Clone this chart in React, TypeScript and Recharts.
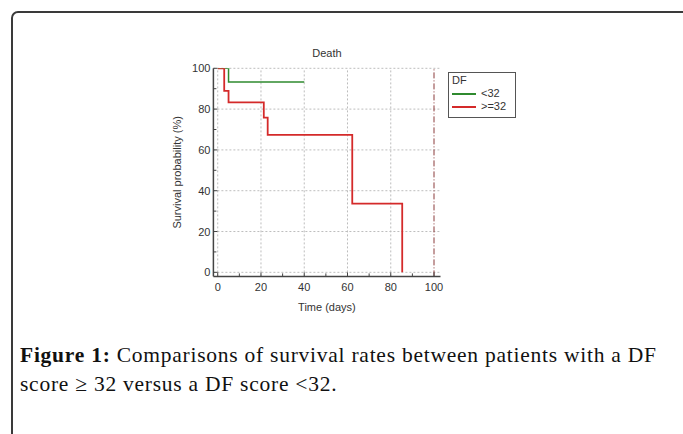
import React from "react";
import { LineChart, Line, XAxis, YAxis, ReferenceLine, Label } from "recharts";

const greenTime = [0, 5, 40];
const greenSurv = [100, 93.3, 93.3];
const redTime = [0, 3, 5, 21.3, 23.1, 62.2, 85.3];
const redSurv = [100, 88.9, 83.3, 75.8, 67.4, 33.7, 0];

const xTicks = [0, 10, 20, 30, 40, 50, 60, 70, 80, 90, 100];
const yTicks = [0, 10, 20, 30, 40, 50, 60, 70, 80, 90, 100];
const xMajor = [0, 20, 40, 60, 80, 100];
const yMajor = [0, 20, 40, 60, 80, 100];

const seriesNames = ["<32", ">=32"];
const seriesColors = ["#2f8a2f", "#d42a2a"];

const greenData = greenTime.map((t, i) => ({ t, s: greenSurv[i] }));
const redData = redTime.map((t, i) => ({ t, s: redSurv[i] }));

const FONT = "'Liberation Sans', Arial, sans-serif";
const AXIS = "#444";

const XTick = (props: any) => {
  const { x, y, payload } = props;
  const major = payload.value % 20 === 0;
  return (
    <g>
      <line x1={x} y1={y} x2={x} y2={y - (major ? 4 : 3)} stroke={AXIS} strokeWidth={1} />
      {major && (
        <text x={x} y={y + 11} textAnchor="middle" dominantBaseline="central" fontSize={11} fill="#333" fontFamily={FONT}>
          {payload.value}
        </text>
      )}
    </g>
  );
};

const YTick = (props: any) => {
  const { x, y, payload } = props;
  const major = payload.value % 20 === 0;
  return (
    <g>
      <line x1={x} y1={y} x2={x + (major ? 4 : 3)} y2={y} stroke={AXIS} strokeWidth={1} />
      {major && (
        <text x={x - 3} y={y} textAnchor="end" dominantBaseline="central" fontSize={11} fill="#333" fontFamily={FONT}>
          {payload.value}
        </text>
      )}
    </g>
  );
};

const LegendBox = () => (
  <div
    style={{
      position: "absolute",
      left: 448,
      top: 72,
      width: 68,
      height: 46,
      border: "1.5px solid #555",
      background: "#fff",
      fontFamily: FONT,
      fontSize: 11,
      color: "#333",
      boxSizing: "border-box",
      padding: "1px 0 0 3px",
      lineHeight: "13px",
    }}
  >
    <div>DF</div>
    {seriesNames.map((n, i) => (
      <div key={n} style={{ display: "flex", alignItems: "center", height: 13 }}>
        <div style={{ width: 24, height: 2, background: seriesColors[i], marginRight: 5 }} />
        <span>{n}</span>
      </div>
    ))}
  </div>
);

export default function App() {
  return (
    <div style={{ position: "absolute", left: 0, top: 0, width: 683, height: 434, background: "#fff", overflow: "hidden" }}>
      <div
        style={{
          position: "absolute",
          left: 11,
          top: 11,
          width: 720,
          height: 520,
          border: "2px solid #3a3a3a",
          borderRadius: 7,
          boxSizing: "border-box",
        }}
      />
      <div style={{ position: "absolute", left: 0, top: 0 }}>
        <LineChart width={683} height={434} margin={{ top: 68.3, right: 242.5, bottom: 127.6, left: 173.4 }}>
          <XAxis
            dataKey="t"
            type="number"
            domain={[-2, 103]}
            ticks={xTicks}
            interval={0}
            tickSize={0}
            tickMargin={0}
            tickLine={false}
            tick={<XTick />}
            height={30}
            axisLine={{ stroke: AXIS, strokeWidth: 1.5 }}
            allowDataOverflow
          >
            <Label value="Time (days)" position="bottom" offset={-3} fontSize={11} fill="#333" fontFamily={FONT} />
          </XAxis>
          <YAxis
            type="number"
            domain={[-2, 100]}
            ticks={yTicks}
            interval={0}
            tickSize={0}
            tickMargin={0}
            tickLine={false}
            tick={<YTick />}
            width={40}
            axisLine={{ stroke: AXIS, strokeWidth: 1.5 }}
            allowDataOverflow
          >
            <Label
              value="Survival probability (%)"
              angle={-90}
              position="left"
              offset={-4}
              fontSize={11}
              fill="#333"
              fontFamily={FONT}
              style={{ textAnchor: "middle" }}
            />
          </YAxis>
          {xMajor.filter((v) => v !== 100).map((v) => (
            <ReferenceLine key={"vx" + v} x={v} stroke="#bdbdbd" strokeDasharray="2 2" strokeWidth={1} />
          ))}
          {yMajor.map((v) => (
            <ReferenceLine key={"hy" + v} y={v} stroke="#bdbdbd" strokeDasharray="2 2" strokeWidth={1} />
          ))}
          <ReferenceLine x={100} stroke="#8b3a3a" strokeDasharray="6 2 1 2" strokeWidth={1} />
          <Line
            data={greenData}
            dataKey="s"
            name={seriesNames[0]}
            type="stepAfter"
            stroke={seriesColors[0]}
            strokeWidth={1.5}
            dot={false}
            isAnimationActive={false}
          />
          <Line
            data={redData}
            dataKey="s"
            name={seriesNames[1]}
            type="stepAfter"
            stroke={seriesColors[1]}
            strokeWidth={1.8}
            dot={false}
            isAnimationActive={false}
          />
        </LineChart>
      </div>
      <LegendBox />
      <div
        style={{
          position: "absolute",
          left: 227,
          top: 47,
          width: 200,
          textAlign: "center",
          fontFamily: FONT,
          fontSize: 11,
          color: "#333",
        }}
      >
        Death
      </div>
      <div
        style={{
          position: "absolute",
          left: 20,
          top: 341,
          fontFamily: "'Liberation Serif', 'Times New Roman', serif",
          fontSize: 21.5,
          letterSpacing: 0.75,
          lineHeight: "28.5px",
          color: "#111",
          whiteSpace: "nowrap",
        }}
      >
        <b>Figure 1:</b> Comparisons of survival rates between patients with a DF
        <br />
        score ≥ 32 versus a DF score &lt;32.
      </div>
    </div>
  );
}
